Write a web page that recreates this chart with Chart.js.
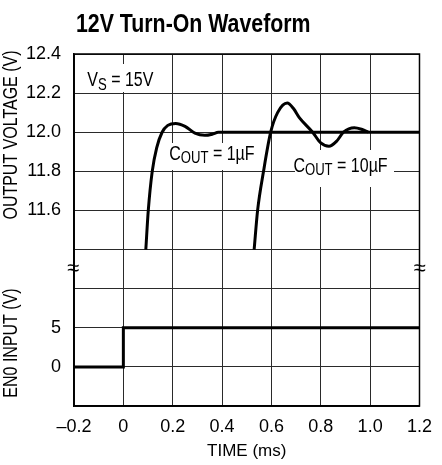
<!DOCTYPE html>
<html>
<head>
<meta charset="utf-8">
<script src="https://cdn.jsdelivr.net/npm/chart.js@4"></script>
<style>
  html, body { margin: 0; padding: 0; background: #fff; }
</style>
</head>
<body>
<canvas id="myChart" width="442" height="465"></canvas>
<script>
const FONT = '"Liberation Sans", Arial, sans-serif';
const NARROW = 0.82; // squeeze to mimic a condensed face

// x axis (ms)
const timeTicks = [-0.2, 0, 0.2, 0.4, 0.6, 0.8, 1.0, 1.2];
// upper panel labels (V) and lower panel labels (V)
const outputTicks = [11.6, 11.8, 12.0, 12.2, 12.4];
const inputTicks = [0, 5];

// COUT = 1uF response
const cout1Time  = [0.091, 0.101, 0.117, 0.135, 0.157, 0.18, 0.212, 0.25, 0.29, 0.33, 0.36, 0.385, 1.2];
const cout1Volts = [11.40, 11.60, 11.80, 11.92, 12.00, 12.035, 12.045, 12.03, 11.995, 11.984, 11.99, 12.0, 12.0];

// COUT = 10uF response
const cout10Time  = [0.530, 0.544, 0.568, 0.597, 0.625, 0.664, 0.69, 0.713, 0.767, 0.80, 0.833, 0.865, 0.892, 0.936, 0.965, 0.992];
const cout10Volts = [11.40, 11.60, 11.80, 12.00, 12.10, 12.149, 12.12, 12.075, 12.00, 11.945, 11.928, 11.955, 12.00, 12.023, 12.015, 12.0];

// EN0 input step
const en0Time  = [-0.2, 0, 0, 1.2];
const en0Volts = [0, 0, 5, 5];

// the plot is one axis of 9 grid units, broken between the two panels
const upperUnit = v => 9 - (12.4 - v) / 0.2;
const lowerUnit = v => (v + 5) / 5;

const yLabels = {};
outputTicks.forEach(v => { yLabels[Math.round(upperUnit(v))] = v.toFixed(1); });
inputTicks.forEach(v => { yLabels[Math.round(lowerUnit(v))] = String(v); });

const toPoints = (ts, vs, f) => ts.map((t, i) => ({ x: t, y: f(vs[i]) }));

// narrow text, returns drawn width
function nText(ctx, t, x, y, rot) {
  ctx.save();
  ctx.translate(x, y);
  if (rot) ctx.rotate(rot);
  ctx.scale(NARROW, 1);
  ctx.fillText(t, 0, 0);
  ctx.restore();
  return ctx.measureText(t).width * NARROW;
}

function drawSub(ctx, x, y, parts) {
  let cx = x;
  parts.forEach(([t, sub]) => {
    ctx.font = (sub ? '16px ' : '19.5px ') + FONT;
    cx += nText(ctx, t, cx, sub ? y + 3.5 : y);
  });
}

const extras = {
  id: 'extras',
  beforeDatasetsDraw(chart) {
    const ctx = chart.ctx;
    const a = chart.chartArea;
    ctx.save();
    // white boxes behind labels
    ctx.fillStyle = '#fff';
    ctx.fillRect(85, 64, 75, 28);
    ctx.fillRect(167, 143, 92, 27);
    ctx.fillRect(295, 150, 99, 37);
    // frame
    ctx.strokeStyle = '#000';
    ctx.lineWidth = 1.5;
    ctx.strokeRect(a.left, a.top, a.right - a.left, a.bottom - a.top);
    ctx.restore();
  },
  afterDatasetsDraw(chart) {
    const ctx = chart.ctx;
    const xs = chart.scales.x, ys = chart.scales.y;
    ctx.save();
    ctx.fillStyle = '#000';
    ctx.textBaseline = 'alphabetic';
    ctx.textAlign = 'left';

    // title
    ctx.font = 'bold 26px ' + FONT;
    nText(ctx, '12V Turn-On Waveform', 76, 31.5);

    drawSub(ctx, xs.getPixelForValue(-0.146), ys.getPixelForValue(upperUnit(12.234)), [['V', false], ['S', true], [' = 15V', false]]);
    drawSub(ctx, xs.getPixelForValue(0.186), ys.getPixelForValue(upperUnit(11.86)), [['C', false], ['OUT', true], [' = 1\u00b5F', false]]);
    drawSub(ctx, xs.getPixelForValue(0.689), ys.getPixelForValue(upperUnit(11.797)), [['C', false], ['OUT', true], [' = 10\u00b5F', false]]);

    // y axis titles
    ctx.font = '19.5px ' + FONT;
    ctx.textAlign = 'center';
    ctx.textBaseline = 'middle';
    nText(ctx, 'OUTPUT VOLTAGE (V)', 12, 135, -Math.PI / 2);
    nText(ctx, 'EN0 INPUT (V)', 12, 343, -Math.PI / 2);

    // axis break marks
    ctx.font = '22px ' + FONT;
    const yb = ys.getPixelForValue(3.5);
    ctx.fillText('\u2248', chart.chartArea.left - 1, yb);
    ctx.fillText('\u2248', chart.chartArea.right, yb);
    ctx.restore();
  }
};

const lineStyle = {
  showLine: true,
  pointRadius: 0,
  borderColor: '#000',
  borderWidth: 3,
  fill: false
};

const myChart = new Chart(document.getElementById('myChart').getContext('2d'), {
  type: 'line',
  data: {
    datasets: [
      Object.assign({ label: 'COUT = 1uF', data: toPoints(cout1Time, cout1Volts, upperUnit), cubicInterpolationMode: 'monotone' }, lineStyle),
      Object.assign({ label: 'COUT = 10uF', data: toPoints(cout10Time, cout10Volts, upperUnit), cubicInterpolationMode: 'monotone' }, lineStyle),
      Object.assign({ label: 'EN0', data: toPoints(en0Time, en0Volts, lowerUnit), tension: 0 }, lineStyle)
    ]
  },
  options: {
    responsive: false,
    animation: false,
    layout: { padding: { top: 54, right: 16, left: 0, bottom: 0 } },
    plugins: {
      legend: { display: false },
      tooltip: { enabled: false }
    },
    scales: {
      x: {
        type: 'linear',
        min: timeTicks[0],
        max: timeTicks[timeTicks.length - 1],
        afterBuildTicks: s => { s.ticks = timeTicks.map(v => ({ value: v })); },
        afterFit: s => { s.height = 59; },
        ticks: {
          color: '#000',
          font: { family: FONT, size: 18 },
          padding: 10,
          maxRotation: 0,
          callback: v => Math.abs(v) < 1e-9 ? '0' : (v < 0 ? '\u2013' + Math.abs(v).toFixed(1) : v.toFixed(1))
        },
        grid: { color: '#2a2a2a', lineWidth: 1, drawTicks: false },
        border: { color: '#000', width: 1.5 },
        title: {
          display: true,
          text: 'TIME (ms)',
          color: '#000',
          font: { family: FONT, size: 17 },
          padding: { top: 0, bottom: 3 }
        }
      },
      y: {
        type: 'linear',
        min: 0,
        max: 9,
        afterFit: s => { s.width = 74; },
        ticks: {
          stepSize: 1,
          color: '#000',
          font: { family: FONT, size: 18 },
          padding: 13,
          callback: v => yLabels[v] || ''
        },
        grid: { color: '#2a2a2a', lineWidth: 1, drawTicks: false },
        border: { color: '#000', width: 1.5 }
      }
    }
  },
  plugins: [extras]
});
</script>
</body>
</html>
